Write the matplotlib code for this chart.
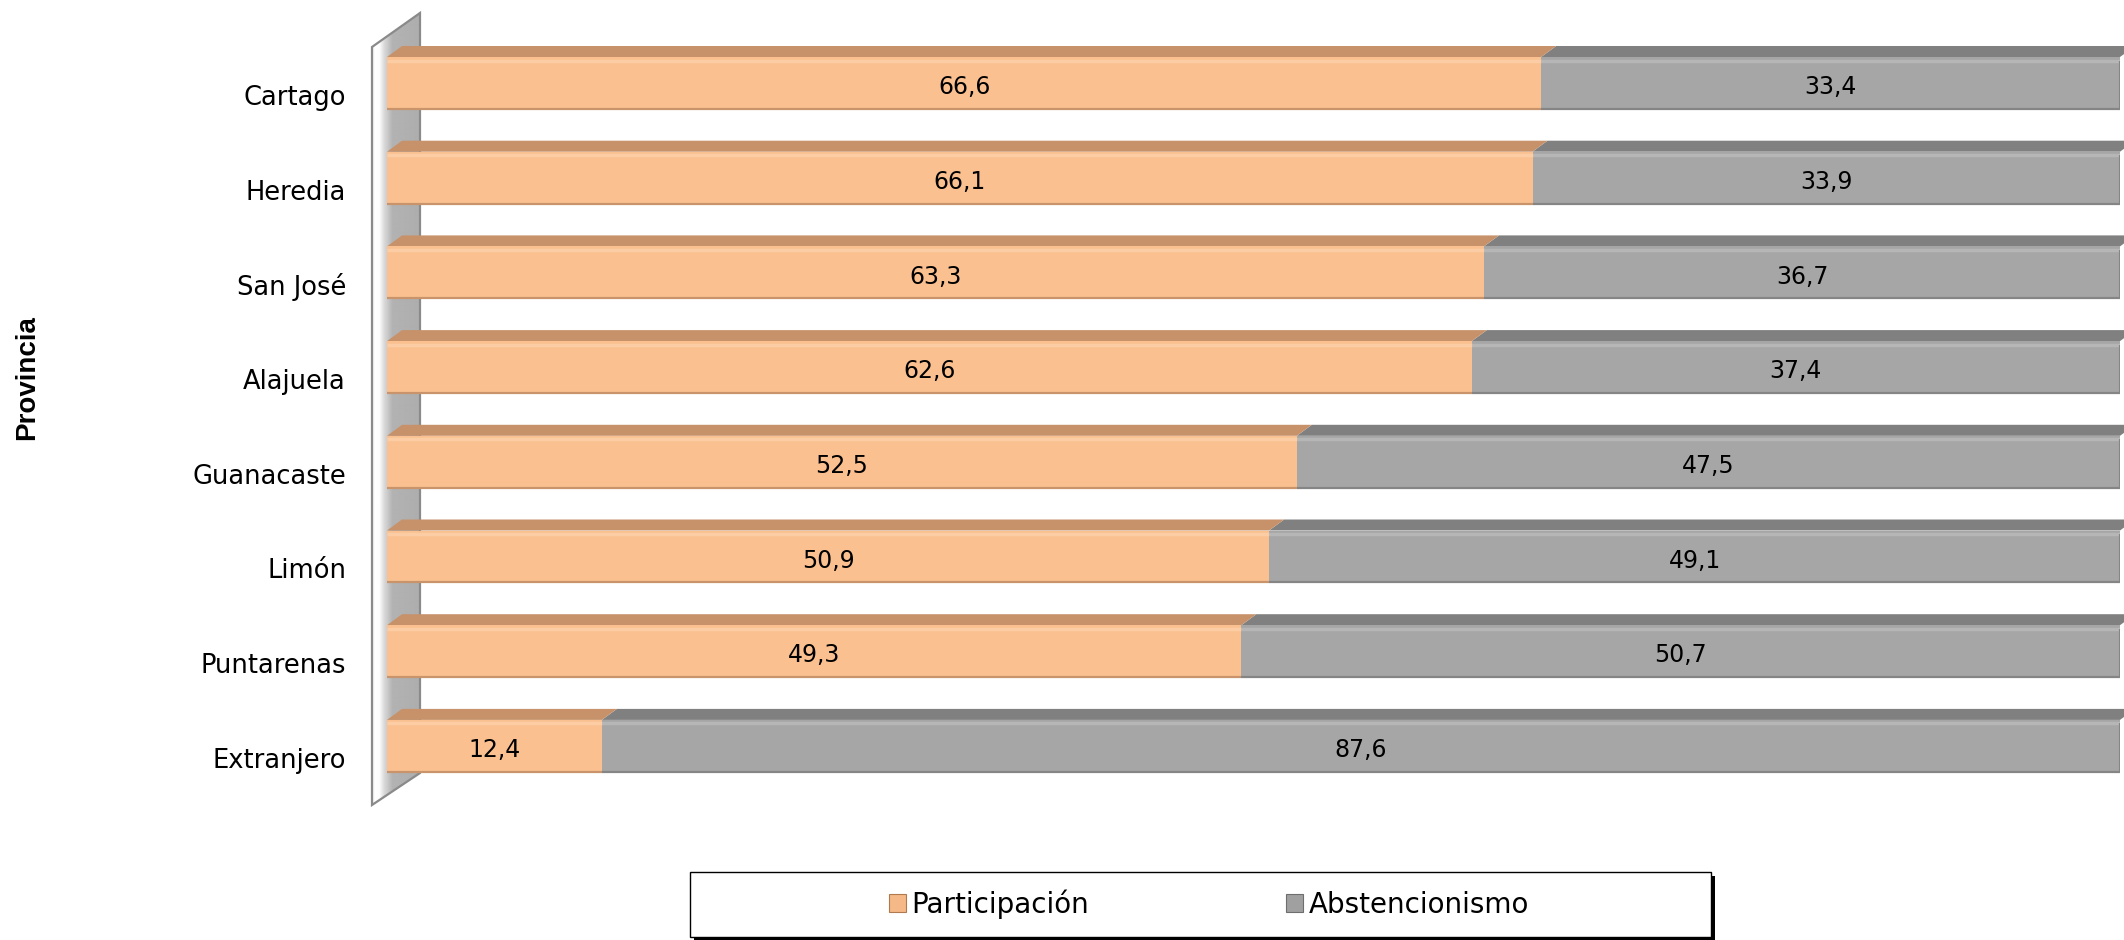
import matplotlib
matplotlib.use("Agg")
import matplotlib.pyplot as plt
import numpy as np
from matplotlib.patches import Polygon, Rectangle, Patch
from matplotlib.transforms import ScaledTranslation

# ---------------- data ----------------
provincias = ["Cartago", "Heredia", "San José", "Alajuela", "Guanacaste",
              "Limón", "Puntarenas", "Extranjero"]
participacion = [66.6, 66.1, 63.3, 62.6, 52.5, 50.9, 49.3, 12.4]
abstencionismo = [33.4, 33.9, 36.7, 37.4, 47.5, 49.1, 50.7, 87.6]
series_names = ["Participación", "Abstencionismo"]
axis_label = "Provincia"

# ---------------- style ----------------
ORANGE = "#FAC090"
ORANGE_TOP = "#C7926A"
ORANGE_HI = "#FCCDA4"
ORANGE_LOW = "#C9936B"
GRAY = "#A6A6A6"
GRAY_TOP = "#808080"
GRAY_HI = "#B6B6B6"
GRAY_LOW = "#858585"

W, H = 2124, 940
DPI = 100
fig = plt.figure(figsize=(W / DPI, H / DPI), dpi=DPI)

# background axes in pixel coordinates (decorations: wall, legend frame)
bg = fig.add_axes([0, 0, 1, 1], zorder=0)
bg.set_xlim(0, W)
bg.set_ylim(H, 0)
bg.axis("off")

wall_pts = [(372, 47), (420, 13), (420, 773), (372, 805)]
wall_poly = Polygon(wall_pts, closed=True, facecolor="none",
                    edgecolor="#8A8A8A", lw=1.6, zorder=3)
xs = np.arange(372, 421)
vals = np.interp(xs, [372, 375, 379, 384, 392, 420],
                 [0.93, 1.0, 0.99, 0.85, 0.70, 0.68])
grad = np.tile(vals, (10, 1))
im = bg.imshow(grad, cmap="gray", vmin=0, vmax=1, extent=(372, 421, 805, 13),
               aspect="auto", interpolation="bilinear", zorder=2)
clip_poly = Polygon(wall_pts, closed=True, transform=bg.transData)
im.set_clip_path(clip_poly)
bg.add_patch(wall_poly)

# legend frame with shadow
bg.add_patch(Rectangle((694, 876), 1021, 65, facecolor="black",
                       edgecolor="none", zorder=1))
bg.add_patch(Rectangle((690, 872), 1021, 65, facecolor="white",
                       edgecolor="black", lw=1.0, zorder=2))

# ---------------- main axes ----------------
x0, x1 = 387, 2120
pitch = 94.7
c0 = 83.0
ax = fig.add_axes([x0 / W, 0, (x1 - x0) / W, 1], zorder=1)
ax.patch.set_visible(False)
ax.set_xlim(0, 100)
ax.set_ylim((H - c0) / pitch, -c0 / pitch)

px_per_unit = (x1 - x0) / 100.0
h = 52 / pitch
dy = 11 / pitch
dx = 15 / px_per_unit

y = np.arange(len(provincias))
part = np.array(participacion)
abst = np.array(abstencionismo)

b1 = ax.barh(y, part, height=h, color=ORANGE, edgecolor="none", zorder=3,
             label=series_names[0])
b2 = ax.barh(y, abst, left=part, height=h, color=GRAY, edgecolor="none",
             zorder=3, label=series_names[1])

# 3D top faces
for yi, p, a in zip(y, part, abst):
    top = yi - h / 2
    ax.add_patch(Polygon([(0, top), (p, top), (p + dx, top - dy), (dx, top - dy)],
                         closed=True, facecolor=ORANGE_TOP, edgecolor="none",
                         zorder=2, clip_on=False))
    ax.add_patch(Polygon([(p, top), (p + a, top), (p + a + dx, top - dy),
                          (p + dx, top - dy)],
                         closed=True, facecolor=GRAY_TOP, edgecolor="none",
                         zorder=1.9, clip_on=False))

# bevel highlights / bottom edges
hi_off = 3.5 / pitch
ax.hlines(y - h / 2 + hi_off, 0, part, color=ORANGE_HI, lw=2.5, zorder=4)
ax.hlines(y - h / 2 + hi_off, part, part + abst, color=GRAY_HI, lw=2.5, zorder=4)
ax.hlines(y + h / 2, 0, part, color=ORANGE_LOW, lw=1.6, zorder=4)
ax.hlines(y + h / 2, part, part + abst, color=GRAY_LOW, lw=1.6, zorder=4)
# rounded dark right end of the bars
ax.vlines(part + abst, y - h / 2 + hi_off, y + h / 2, color=GRAY_LOW, lw=1.5,
          zorder=4)

fmt = lambda v: f"{v:.1f}".replace(".", ",")
anns = ax.bar_label(b1, labels=[fmt(v) for v in part], label_type="center",
                    fontsize=17, color="black", zorder=5)
anns += ax.bar_label(b2, labels=[fmt(v) for v in abst], label_type="center",
                     fontsize=17, color="black", zorder=5)
for a_ in anns:
    a_.xyann = (0, -3.0)

ax.set_yticks(y)
ax.set_yticklabels(provincias, fontsize=18.5)
ax.tick_params(axis="y", length=0, pad=29.5)
off = ScaledTranslation(0, -0.12, fig.dpi_scale_trans)
for lbl in ax.get_yticklabels():
    lbl.set_transform(lbl.get_transform() + off)
ax.xaxis.set_visible(False)
for s in ax.spines.values():
    s.set_visible(False)

ax.set_ylabel(axis_label, fontsize=20, fontweight="bold",
              family="Liberation Sans")
ax.yaxis.set_label_coords((40 - x0) / (x1 - x0), 1 - 378 / H)

handles = [Patch(facecolor="#F5B887", edgecolor="#B07A50", lw=0.8),
           Patch(facecolor="#A0A0A0", edgecolor="#6E6E6E", lw=0.8)]
fig.legend(handles, series_names, loc="center",
           bbox_to_anchor=(1209 / W, 1 - 904 / H), ncol=2, frameon=False,
           fontsize=20, handlelength=0.6, handleheight=0.6,
           handletextpad=0.2, columnspacing=7.1)

fig.savefig("out.png", dpi=DPI)
